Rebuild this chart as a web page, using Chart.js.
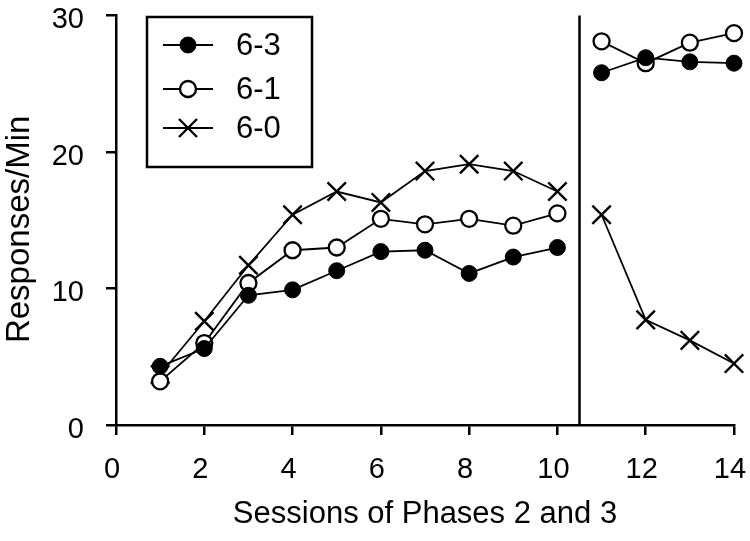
<!DOCTYPE html>
<html>
<head>
<meta charset="utf-8">
<script src="https://cdn.jsdelivr.net/npm/chart.js@4/dist/chart.umd.min.js"></script>
<style>
  html, body { margin: 0; padding: 0; background: #fff; }
  #wrap { width: 750px; height: 541px; }
</style>
</head>
<body>
<div id="wrap"><canvas id="c" width="750" height="541"></canvas></div>
<script>
// ---- data ----
const seriesLabels = ['6-3', '6-1', '6-0'];
const sessionsPhase2 = [1, 2, 3, 4, 5, 6, 7, 8, 9, 10];
const sessionsPhase3 = [11, 12, 13, 14];
const phaseChange = 10.5;
const s63Phase2 = [4.3, 5.6, 9.5, 9.9, 11.3, 12.7, 12.8, 11.1, 12.3, 13.0];
const s63Phase3 = [25.8, 26.9, 26.6, 26.5];
const s61Phase2 = [3.2, 6.0, 10.4, 12.8, 13.0, 15.1, 14.7, 15.1, 14.6, 15.5];
const s61Phase3 = [28.1, 26.5, 28.0, 28.7];
const s60Phase2 = [3.7, 7.6, 11.7, 15.4, 17.1, 16.3, 18.6, 19.1, 18.6, 17.1];
const s60Phase3 = [15.4, 7.7, 6.2, 4.5];
const xTicks = [0, 2, 4, 6, 8, 10, 12, 14];
const yTicks = [0, 10, 20, 30];

function build(p2, p3) {
  const pts = sessionsPhase2.map((x, i) => ({x: x, y: p2[i]}));
  pts.push({x: phaseChange, y: null});
  sessionsPhase3.forEach((x, i) => pts.push({x: x, y: p3[i]}));
  return pts;
}

const FONT = 'Liberation Sans, Arial, Helvetica, sans-serif';

const styles = [
  {pointStyle: 'circle', pointRadius: 8, pointBackgroundColor: '#000', pointBorderColor: '#000', pointBorderWidth: 1},
  {pointStyle: 'circle', pointRadius: 8, pointBackgroundColor: '#fff', pointBorderColor: '#000', pointBorderWidth: 2.3},
  {pointStyle: 'crossRot', pointRadius: 13, pointBackgroundColor: '#000', pointBorderColor: '#000', pointBorderWidth: 2.4}
];
const seriesData = [build(s63Phase2, s63Phase3), build(s61Phase2, s61Phase3), build(s60Phase2, s60Phase3)];

// dataset 0 is drawn on top in Chart.js
const datasets = [0, 1, 2].map(i => Object.assign({
  label: seriesLabels[i],
  data: seriesData[i],
  borderColor: '#000',
  borderWidth: 1.8,
  fill: false,
  tension: 0,
  spanGaps: false,
  clip: false
}, styles[i]));

datasets.push({
  label: 'phase',
  data: [{x: phaseChange, y: 0}, {x: phaseChange, y: 30}],
  borderColor: '#000',
  borderWidth: 2.5,
  pointRadius: 0,
  fill: false,
  clip: false
});

const legendMarkers = [
  {style: 'circle', r: 8, fill: '#000', lw: 1},
  {style: 'circle', r: 8, fill: '#fff', lw: 2.3},
  {style: 'cross', r: 9, fill: null, lw: 2.4}
];

const legendBox = {
  id: 'legendBox',
  afterDraw(chart) {
    const ctx = chart.ctx;
    ctx.save();
    ctx.lineWidth = 2.5;
    ctx.strokeStyle = '#000';
    ctx.strokeRect(147, 17, 165, 150);
    const rows = [45, 89, 128];
    seriesLabels.forEach((lab, i) => {
      const y = rows[i];
      ctx.beginPath();
      ctx.lineWidth = 1.8;
      ctx.strokeStyle = '#000';
      ctx.moveTo(163, y);
      ctx.lineTo(213, y);
      ctx.stroke();
      const m = legendMarkers[i];
      ctx.lineWidth = m.lw;
      ctx.beginPath();
      if (m.style === 'circle') {
        ctx.fillStyle = m.fill;
        ctx.arc(188, y, m.r, 0, Math.PI * 2);
        ctx.fill();
        ctx.stroke();
      } else {
        const d = m.r;
        ctx.moveTo(188 - d, y - d); ctx.lineTo(188 + d, y + d);
        ctx.moveTo(188 - d, y + d); ctx.lineTo(188 + d, y - d);
        ctx.stroke();
      }
      ctx.fillStyle = '#000';
      ctx.font = '31px ' + FONT;
      ctx.textBaseline = 'middle';
      ctx.textAlign = 'left';
      ctx.fillText(lab, 236, y + 1);
    });
    ctx.restore();
  }
};

new Chart(document.getElementById('c'), {
  type: 'line',
  data: {datasets: datasets},
  options: {
    responsive: false,
    animation: false,
    events: [],
    layout: {padding: {top: 13, right: 16, left: 0, bottom: 0}},
    plugins: {legend: {display: false}, tooltip: {enabled: false}},
    scales: {
      x: {
        type: 'linear',
        min: 0, max: 14,
        afterBuildTicks(scale) { scale.ticks = xTicks.map(v => ({value: v})); },
        afterFit(scale) { scale.height = 116; scale.paddingLeft = 0; scale.paddingRight = 0; scale.paddingTop = 0; scale.paddingBottom = 0; },
        grid: {drawOnChartArea: false, drawTicks: true, tickLength: 10, color: '#000', lineWidth: 2.5},
        border: {display: true, color: '#000', width: 2.5},
        ticks: {color: '#000', font: {family: FONT, size: 29}, padding: 18, labelOffset: -4, maxRotation: 0, autoSkip: false},
        title: {display: true, text: 'Sessions of Phases 2 and 3', color: '#000', font: {family: FONT, size: 31}, padding: {top: 0, bottom: 8}}
      },
      y: {
        type: 'linear',
        min: 0, max: 30,
        afterBuildTicks(scale) { scale.ticks = yTicks.map(v => ({value: v})); },
        afterFit(scale) { scale.width = 116; scale.paddingLeft = 0; scale.paddingRight = 0; scale.paddingTop = 0; scale.paddingBottom = 0; },
        grid: {drawOnChartArea: false, drawTicks: true, tickLength: 10, color: '#000', lineWidth: 2.5},
        border: {display: true, color: '#000', width: 2.5},
        ticks: {color: '#000', font: {family: FONT, size: 29}, padding: 22, labelOffset: 5},
        title: {display: true, text: 'Responses/Min  ', color: '#000', font: {family: FONT, size: 33}, padding: {top: 0, bottom: 0}}
      }
    }
  },
  plugins: [legendBox]
});
</script>
</body>
</html>
